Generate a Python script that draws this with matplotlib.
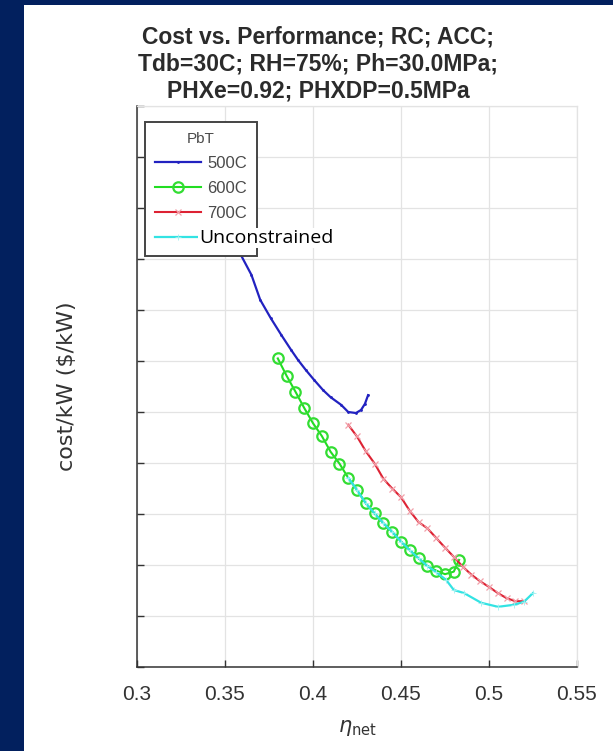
import matplotlib
matplotlib.use("Agg")
import matplotlib.pyplot as plt
from matplotlib.patches import Rectangle

# Data (cost axis in grid units, no labels shown)
eta_500 = [0.350, 0.359, 0.365, 0.370, 0.376, 0.382, 0.3875, 0.3915, 0.396, 0.4006,
           0.4057, 0.410, 0.416, 0.420, 0.4244, 0.4273, 0.4295, 0.4313]
cost_500 = [8.86, 8.08, 7.69, 7.20, 6.84, 6.51, 6.22, 6.02, 5.82, 5.63,
            5.43, 5.29, 5.14, 5.00, 4.98, 5.04, 5.16, 5.33]

eta_600 = [0.380, 0.385, 0.390, 0.395, 0.400, 0.405, 0.410, 0.415, 0.420, 0.425,
           0.430, 0.435, 0.440, 0.445, 0.450, 0.455, 0.460, 0.465, 0.470, 0.475,
           0.480, 0.483]
cost_600 = [6.05, 5.71, 5.40, 5.08, 4.78, 4.53, 4.22, 3.99, 3.71, 3.47,
            3.21, 3.01, 2.82, 2.65, 2.46, 2.29, 2.13, 1.98, 1.89, 1.82,
            1.87, 2.10]

eta_700 = [0.420, 0.425, 0.430, 0.435, 0.440, 0.445, 0.450, 0.455, 0.460, 0.465,
           0.470, 0.475, 0.480, 0.485, 0.490, 0.495, 0.500, 0.505, 0.510, 0.515,
           0.520]
cost_700 = [4.75, 4.52, 4.23, 3.99, 3.69, 3.50, 3.33, 3.06, 2.84, 2.72,
            2.53, 2.34, 2.16, 1.97, 1.81, 1.68, 1.57, 1.45, 1.35, 1.29,
            1.29]

eta_unc = [0.420, 0.425, 0.430, 0.435, 0.440, 0.445, 0.450, 0.455, 0.460, 0.465,
           0.470, 0.4756, 0.480, 0.4858, 0.4955, 0.5051, 0.5142, 0.5199, 0.525]
cost_unc = [3.71, 3.47, 3.21, 3.01, 2.82, 2.65, 2.46, 2.29, 2.13, 1.98,
            1.86, 1.71, 1.51, 1.45, 1.26, 1.18, 1.22, 1.28, 1.45]

x_ticks = [0.3, 0.35, 0.4, 0.45, 0.5, 0.55]
x_tick_labels = ["0.3", "0.35", "0.4", "0.45", "0.5", "0.55"]
y_ticks = list(range(0, 12))

TITLE = "Cost vs. Performance; RC; ACC;\nTdb=30C; RH=75%; Ph=30.0MPa;\nPHXe=0.92; PHXDP=0.5MPa"

plt.rcParams["font.family"] = ["Liberation Sans", "DejaVu Sans"]

fig = plt.figure(figsize=(6.13, 7.51), dpi=100)
fig.patch.set_facecolor("#02205e")
# white slide area behind everything
fig.patches.append(Rectangle((24 / 613, 0), 1 - 24 / 613, 1 - 5 / 751,
                             transform=fig.transFigure, facecolor="white",
                             edgecolor="none", zorder=-10))

ax = fig.add_axes([137 / 613, 84 / 751, 440 / 613, 561 / 751])
ax.set_facecolor("white")
ax.set_zorder(1)

ax.plot(eta_500, cost_500, color="#2222c0", lw=1.6, marker=".", ms=2, label="500C")
ax.plot(eta_600, cost_600, color="#22dd22", lw=1.5, marker="o", ms=7.5,
        mfc="none", mec="#33dd33", mew=1.6, label="600C")
ax.plot(eta_700, cost_700, color="#dd2233", lw=1.5, marker="x", ms=4.5,
        mec="#f2a0aa", mew=0.9, label="700C")
ax.plot(eta_unc, cost_unc, color="#33e3e3", lw=1.6, marker="+", ms=4,
        mec="#9ff0f0", mew=0.6, label=" ")

ax.set_xlim(0.3, 0.55)
ax.set_ylim(0, 11)
ax.set_xticks(x_ticks)
ax.set_xticklabels(x_tick_labels)
ax.set_yticks(y_ticks)
ax.set_yticklabels([])
ax.tick_params(direction="in", length=5, width=1, colors="#333333",
               labelsize=15, pad=13)
ax.grid(True, color="#e3e3e3", lw=0.9)
for s in ["left", "bottom"]:
    ax.spines[s].set_color("#333333")
    ax.spines[s].set_linewidth(1.1)
for s in ["top", "right"]:
    ax.spines[s].set_color("#e3e3e3")
    ax.spines[s].set_linewidth(0.9)

ax.set_xlabel(r"$\eta_{\rm net}$", fontsize=15, color="#333333", labelpad=10)
ax.set_ylabel("cost/kW (\\$/kW)", fontsize=16, color="#333333", labelpad=30,
              family=["DejaVu Sans"])

leg = ax.legend(title="PbT", loc="upper left",
                bbox_to_anchor=(8 / 440, 1 - 16 / 561), borderaxespad=0,
                fontsize=12, title_fontsize=11, numpoints=1, handlelength=2.75,
                handletextpad=0.4, borderpad=0.6, labelspacing=0.6,
                fancybox=False, framealpha=1, edgecolor="#444444")
leg.get_frame().set_linewidth(1.4)
for t in leg.get_texts():
    t.set_color("#4a4a4a")
leg.get_title().set_color("#4a4a4a")

fig.text(199 / 613, 1 - 238 / 751, "Unconstrained", fontsize=14,
         family=["Open Sans", "DejaVu Sans"], ha="left", va="center", color="black",
         bbox=dict(facecolor="white", edgecolor="none", pad=1), zorder=10)

fig.text(318 / 613, 1 - 64 / 751, TITLE, fontsize=16.5, fontweight="bold",
         color="#2b2b2b", ha="center", va="center", linespacing=1.2)

fig.savefig("out.png", dpi=100, facecolor=fig.get_facecolor())
